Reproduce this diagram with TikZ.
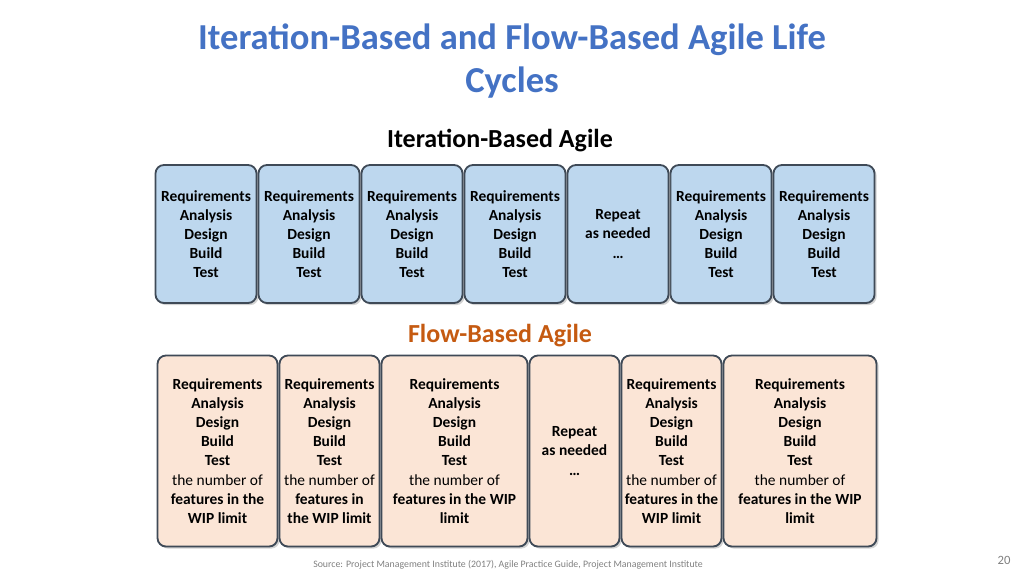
\documentclass[tikz,border=0pt]{standalone}
\usepackage{fontspec}
\setmainfont{Carlito}
\usetikzlibrary{shadows}
\definecolor{titleblue}{HTML}{4472C4}
\definecolor{flow}{HTML}{C55A11}
\definecolor{iterfill}{HTML}{BDD7EE}
\definecolor{flowfill}{HTML}{FBE5D6}
\definecolor{edge}{HTML}{3F4A57}
\begin{document}
\begin{tikzpicture}[
    x=0.025cm, y=-0.025cm,
    card/.style={rectangle, rounded corners=6pt, draw=edge, line width=1.3pt, align=center,
        font=\fontsize{11}{13.6}\selectfont\bfseries, inner sep=0pt,
        drop shadow={shadow xshift=1.5pt, shadow yshift=-1.5pt, opacity=0.35, fill=gray}},
    itercard/.style={card, fill=iterfill, minimum width=101*0.025cm, minimum height=138*0.025cm},
    flowcard/.style={card, fill=flowfill, minimum height=191*0.025cm},
    heading/.style={font=\fontsize{18.5}{22}\selectfont\bfseries}
]
\useasboundingbox (0,0) rectangle (1024,575);

% Title
\node[font=\fontsize{26}{30.5}\selectfont\bfseries, text=titleblue, align=center] (title) at (512,61)
    {Iteration-Based and Flow-Based Agile Life\\Cycles};

%==============================================================================
% Iteration-based
%==============================================================================
\node[heading] (iterhead) at (500,141) {Iteration-Based Agile};

\foreach \cx/\nm in {206/i1, 309/i2, 412/i3, 515/i4, 721/i6, 824/i7}
    \node[itercard] (\nm) at (\cx,234) {Requirements\\Analysis\\Design\\Build\\Test};
\node[itercard] (i5) at (618,234) {Repeat\\as needed\\\ldots};

%==============================================================================
% Flow-based
%==============================================================================
\node[heading, text=flow] (flowhead) at (500,336) {Flow-Based Agile};

\newcommand{\flowtext}[1]{Requirements\\Analysis\\Design\\Build\\Test\\\mdseries #1}
\node[flowcard, minimum width=120*0.025cm] (f1) at (217.5,451) {\flowtext{the number of\\features in the\\WIP limit}};
\node[flowcard, minimum width=100*0.025cm] (f2) at (329.5,451) {\flowtext{the number of\\features in\\the WIP limit}};
\node[flowcard, minimum width=146*0.025cm] (f3) at (454.5,451) {\flowtext{the number of\\features in the WIP\\limit}};
\node[flowcard, minimum width=90*0.025cm] (f4) at (574.5,451) {Repeat\\as needed\\\ldots};
\node[flowcard, minimum width=100*0.025cm] (f5) at (671.5,451) {\flowtext{the number of\\features in the\\WIP limit}};
\node[flowcard, minimum width=153*0.025cm] (f6) at (800,451) {\flowtext{the number of\\features in the WIP\\limit}};

% Footer
\node[font=\fontsize{7}{8}\selectfont, text=gray] (source) at (508,565)
    {Source: Project Management Institute (2017), Agile Practice Guide, Project Management Institute};
\node[font=\fontsize{9}{10}\selectfont, text=gray] (page) at (1004,560) {20};
\end{tikzpicture}
\end{document}
